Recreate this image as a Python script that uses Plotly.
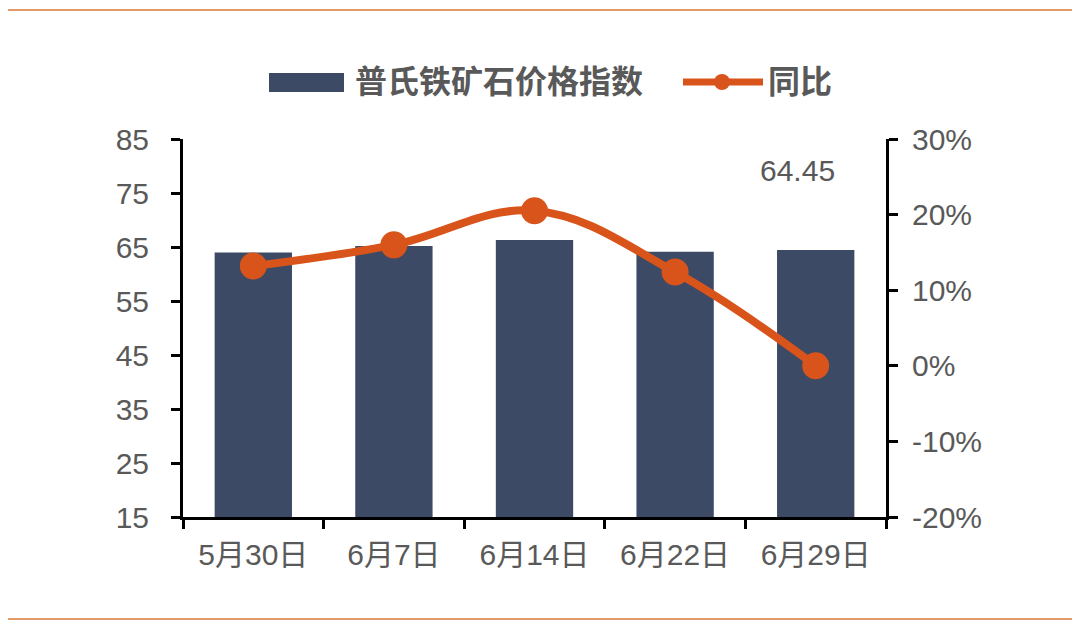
import plotly.graph_objects as go

categories = ["5月30日", "6月7日", "6月14日", "6月22日", "6月29日"]
index_values = [64.0, 65.2, 66.3, 64.1, 64.45]
yoy_values = [0.132, 0.160, 0.205, 0.124, 0.0]
left_ticks = [15, 25, 35, 45, 55, 65, 75, 85]
right_ticks = [-0.2, -0.1, 0.0, 0.1, 0.2, 0.3]
right_labels = ["-20%", "-10%", "0%", "10%", "20%", "30%"]
bar_name = "普氏铁矿石价格指数"
line_name = "同比"

BAR_C = "#3C4A65"
LINE_C = "#D9541A"
TXT_C = "#595959"
FONT = "Liberation Sans, Arial, Noto Sans CJK SC"

OFF = 8  # page body margin
W, H = 1080 - 2 * OFF, 632 - 2 * OFF
PL, PR, PT, PB = 183, 886, 139, 517  # plot edges in page pixels
L, T = PL - OFF, PT - OFF
PW, PH = PR - PL, PB - PT
R, B = W - L - PW, H - T - PH

def px(x):
    return (x - PL) / PW

def py(y):
    return (PB - y) / PH

fig = go.Figure()
fig.add_trace(go.Bar(x=categories, y=index_values, name=bar_name,
                     marker=dict(color=BAR_C, line=dict(width=0)), width=0.55,
                     showlegend=False))
fig.add_trace(go.Scatter(x=categories, y=yoy_values, name=line_name, yaxis="y2",
                         mode="lines+markers",
                         line=dict(color=LINE_C, width=8, shape="spline", smoothing=1.1),
                         marker=dict(color=LINE_C, size=27),
                         showlegend=False))

fig.add_annotation(x=categories[-1], y=index_values[-1], text=f"{index_values[-1]:.2f}",
                   showarrow=False, xshift=-18, yshift=79,
                   font=dict(size=30, color=TXT_C, family=FONT))

shapes = []
for yy in (10, 619):
    shapes.append(dict(type="line", xref="paper", yref="paper",
                       x0=px(5), x1=px(1075), y0=py(yy), y1=py(yy),
                       line=dict(color="#E4996B", width=2)))
shapes.append(dict(type="rect", xref="paper", yref="paper",
                   x0=px(269), x1=px(344), y0=py(92), y1=py(73),
                   fillcolor=BAR_C, line=dict(width=0)))
shapes.append(dict(type="line", xref="paper", yref="paper",
                   x0=px(683), x1=px(763), y0=py(82), y1=py(82),
                   line=dict(color=LINE_C, width=7)))
shapes.append(dict(type="circle", xref="paper", yref="paper",
                   x0=px(714), x1=px(730), y0=py(90), y1=py(74),
                   fillcolor=LINE_C, line=dict(width=0)))
fig.add_annotation(xref="paper", yref="paper", x=px(353), y=py(82), text=f"<b>{bar_name}</b>",
                   showarrow=False, xanchor="left", yanchor="middle",
                   font=dict(size=32, color=TXT_C, family=FONT))
fig.add_annotation(xref="paper", yref="paper", x=px(766), y=py(82), text=f"<b>{line_name}</b>",
                   showarrow=False, xanchor="left", yanchor="middle",
                   font=dict(size=32, color=TXT_C, family=FONT))

fig.update_layout(
    width=W, height=H,
    margin=dict(l=L, r=R, t=T, b=B, autoexpand=False),
    paper_bgcolor="white", plot_bgcolor="white",
    shapes=shapes,
    font=dict(family=FONT, color=TXT_C, size=30),
    xaxis=dict(type="category", showline=True, linecolor="black", linewidth=3,
               ticks="outside", tickson="boundaries", ticklen=9, tickwidth=3,
               tickcolor="black", showgrid=False, zeroline=False,
               tickfont=dict(size=30, color=TXT_C), ticklabelstandoff=9),
    yaxis=dict(range=[15, 85], tickvals=left_ticks, showline=True, linecolor="black",
               linewidth=3, ticks="outside", ticklen=9, tickwidth=3, tickcolor="black",
               showgrid=False, zeroline=False, tickfont=dict(size=30, color=TXT_C),
               ticklabelstandoff=16),
    yaxis2=dict(range=[-0.2, 0.3], tickvals=right_ticks, ticktext=right_labels,
                overlaying="y", side="right", showline=True, linecolor="black", linewidth=3,
                ticks="outside", ticklen=9, tickwidth=3, tickcolor="black",
                showgrid=False, zeroline=False, tickfont=dict(size=30, color=TXT_C),
                ticklabelstandoff=8),
)

fig.write_html("out.html")
